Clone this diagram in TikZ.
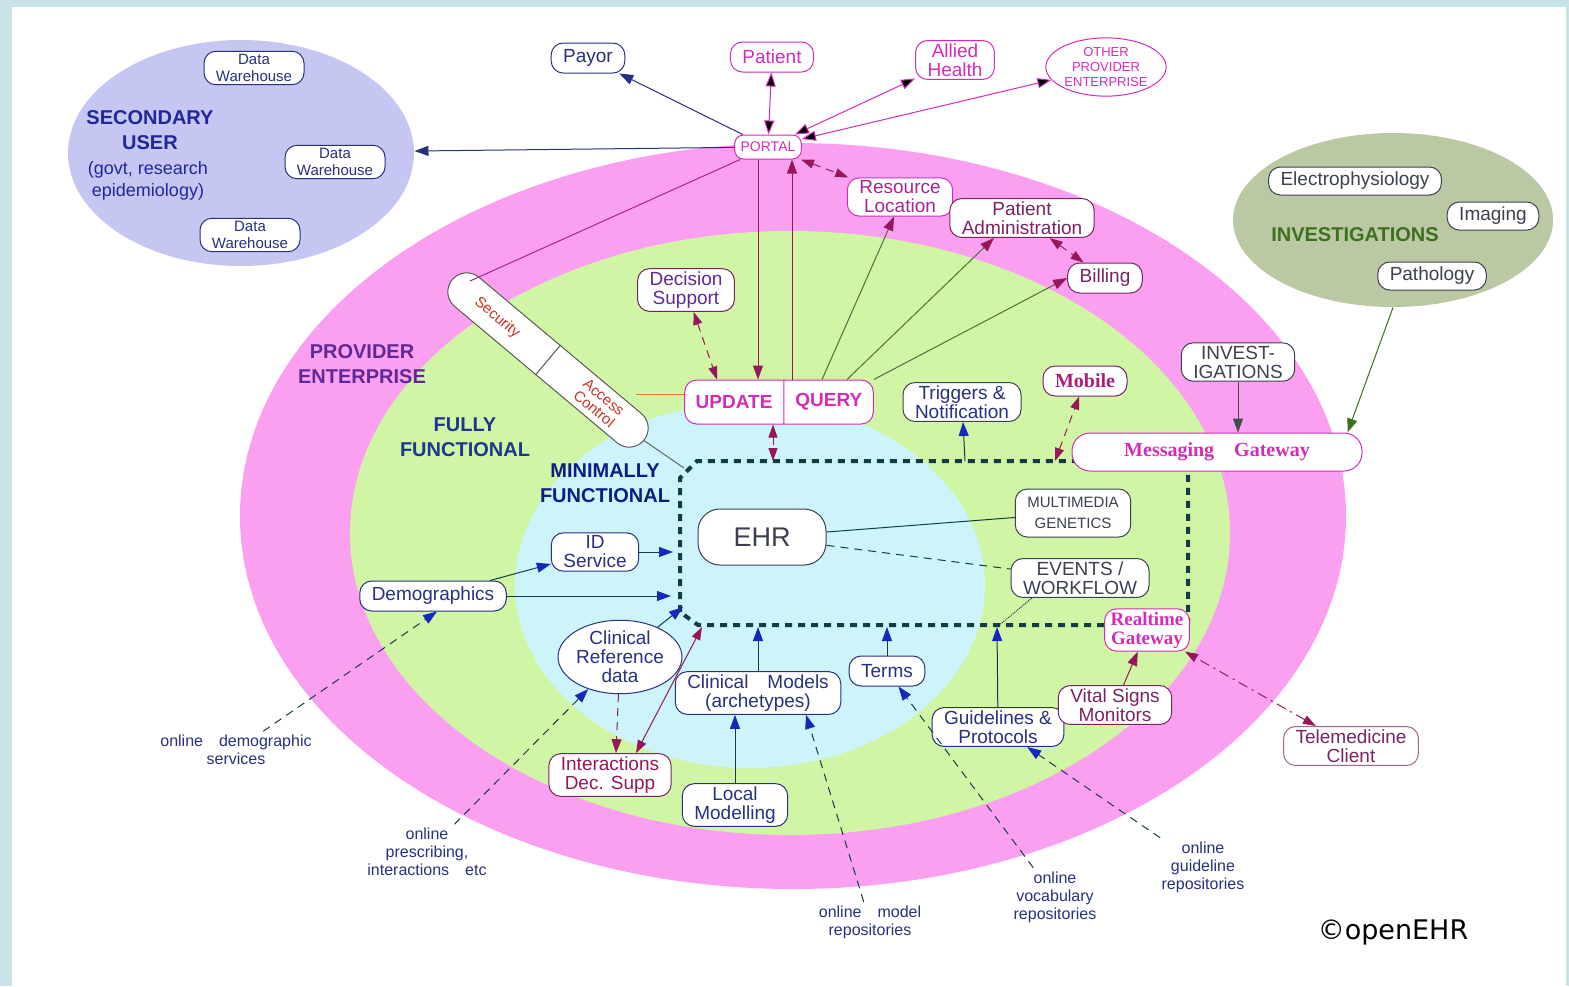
\documentclass[tikz,border=0pt]{standalone}
\usepackage{fontspec}
\setmainfont{Liberation Sans}
\newfontfamily\gwfont{Liberation Serif}
\newfontfamily\copyfont{DejaVu Sans}
\usetikzlibrary{arrows.meta, shapes}

\definecolor{framebg}{RGB}{200,226,232}
\definecolor{secfill}{RGB}{198,198,242}
\definecolor{invfill}{RGB}{186,200,164}
\definecolor{provfill}{RGB}{251,160,240}
\definecolor{fullfill}{RGB}{208,245,164}
\definecolor{minfill}{RGB}{204,244,250}
\definecolor{navy}{RGB}{40,48,128}
\definecolor{magtxt}{RGB}{212,44,184}
\definecolor{plum}{RGB}{120,36,100}
\definecolor{darkbox}{RGB}{60,64,80}
\definecolor{boxline}{RGB}{20,60,70}
\definecolor{arrblue}{RGB}{20,40,190}
\definecolor{arrplum}{RGB}{150,24,90}
\definecolor{olivel}{RGB}{80,110,60}
\definecolor{secred}{RGB}{200,50,40}
\definecolor{invgreen}{RGB}{62,112,32}
\definecolor{provtxt}{RGB}{96,40,150}
\definecolor{ffblue}{RGB}{28,56,140}
\definecolor{accorange}{RGB}{235,120,40}

\begin{document}
\begin{tikzpicture}[x=1pt, y=-1pt, line width=1pt, every edge/.style={draw},
	ehrbox/.style={draw=darkbox, fill=white, rounded corners=12pt, align=center, inner xsep=12pt, inner ysep=3pt, minimum height=30pt, line width=1pt, text=darkbox, font=\fontsize{19}{19}\selectfont},
	navybox/.style={ehrbox, draw=navy, text=navy},
	magbox/.style={ehrbox, draw=magtxt, text=magtxt},
	plumbox/.style={ehrbox, draw=plum, text=plum},
	dwbox/.style={navybox, minimum width=100pt, inner xsep=4pt, font=\fontsize{15}{17}\selectfont},
	gwbox/.style={ehrbox, draw=magtxt, text=magtxt, font=\gwfont\fontsize{20}{20}\selectfont\bfseries},
	uqbox/.style={ehrbox, rectangle split, rectangle split horizontal, rectangle split parts=2, draw=magtxt, text=magtxt, inner xsep=11pt, minimum height=44pt, font=\fontsize{19}{19}\selectfont\bfseries},
	secbar/.style={draw=gray!70!black, fill=white, rounded corners=19pt, minimum width=250pt, minimum height=38pt},
	sectext/.style={text=secred, align=center, inner sep=1pt, font=\fontsize{15}{15}\selectfont},
	zonetitle/.style={align=center, font=\fontsize{20}{25}\selectfont\bfseries},
	onlinetxt/.style={align=center, text=navy, font=\fontsize{16}{18}\selectfont},
	dashline/.style={dash pattern=on 8pt off 6pt},
	dashdotline/.style={dash pattern=on 10pt off 5pt on 2pt off 5pt},
	navyto/.style={>={Triangle[length=14pt,width=10pt]}, ->, draw=navy},
	blueto/.style={>={Triangle[length=14pt,width=10pt,color=arrblue]}, ->, draw=boxline},
	magboth/.style={>={Triangle[length=14pt,width=10pt]}, <->, draw=magtxt},
	plumto/.style={>={Triangle[length=14pt,width=10pt]}, ->, draw=arrplum},
	plumboth/.style={>={Triangle[length=13pt,width=9pt]}, <->, draw=arrplum},
	oliveto/.style={>={Triangle[length=14pt,width=10pt,color=arrplum]}, ->, draw=olivel},
	greento/.style={>={Triangle[length=14pt,width=10pt]}, ->, draw=invgreen},
	darkto/.style={>={Triangle[length=14pt,width=10pt]}, ->, draw=darkbox!70!olivel}]

	\useasboundingbox (0,0) rectangle (1569,986);
	\fill[framebg] (0,0) rectangle (1569,986);
	\fill[white] (12,7) rectangle (1566,986);

	% rings
	\fill[provfill] (793,516) ellipse [x radius=553pt, y radius=373pt];
	\fill[fullfill] (790,533) ellipse [x radius=440pt, y radius=302pt];
	\fill[minfill] (750,585) ellipse [x radius=235pt, y radius=183pt];

	\node[ellipse, fill=secfill, minimum width=346pt, minimum height=226pt] (secuser) at (241,153) {};
	\node[ellipse, fill=invfill, minimum width=320pt, minimum height=174pt] (invarea) at (1393,220) {};

	\draw[boxline, line width=4pt, dash pattern=on 7pt off 6pt] (680,612) -- (680,478) -- (697,461) -- (1188,461) -- (1188,625) -- (698,625) -- cycle;

	\node[dwbox] (dw1) at (254,68) {Data\\Warehouse};
	\node[dwbox] (dw2) at (335,162) {Data\\Warehouse};
	\node[dwbox] (dw3) at (250,235) {Data\\Warehouse};
	\node[zonetitle, text=navy!80!blue] (sectitle) at (150,130) {SECONDARY\\USER};
	\node[align=center, text=navy!80!blue, font=\fontsize{18}{22}\selectfont] (secsub) at (148,181) {(govt, research\\epidemiology)};

	\node[navybox] (payor) at (588,58) {Payor};
	\node[magbox] (patient) at (772,57) {Patient};
	\node[magbox] (allied) at (955,60) {Allied\\Health};
	\node[magbox, ellipse, inner sep=1pt, font=\fontsize{13}{15}\selectfont] (otherpe) at (1106,67) {OTHER\\PROVIDER\\ENTERPRISE};
	\node[magbox, minimum height=24pt, inner xsep=6pt, rounded corners=9pt, font=\fontsize{14}{14}\selectfont] (portal) at (768,147) {PORTAL};

	\node[magbox, text=magtxt!80!black] (resloc) at (900,197) {Resource\\Location};
	\node[plumbox] (patadm) at (1022,218) {Patient\\Administration};
	\node[plumbox] (billing) at (1105,278) {Billing};
	\node[plumbox, text=provtxt] (decsup) at (686,290) {Decision\\Support};
	\node[uqbox] (uq) at (779,402) {UPDATE\nodepart{two}QUERY};
	\node[ehrbox, text=navy] (trig) at (962,402) {Triggers \&\\Notification};
	\node[gwbox, text=arrplum!70!magtxt, draw=plum] (mobile) at (1085,381) {Mobile};

	\node[ehrbox] (invnode) at (1238,362) {INVEST-\\IGATIONS};
	\node[gwbox, minimum width=290pt, minimum height=38pt, rounded corners=18pt] (msg) at (1217,452) {Messaging\quad Gateway};
	\node[ehrbox, minimum height=28pt] (electro) at (1355,181) {Electrophysiology};
	\node[ehrbox, minimum height=28pt] (imaging) at (1493,216) {Imaging};
	\node[ehrbox, minimum height=28pt] (patho) at (1432,276) {Pathology};
	\node[zonetitle, text=invgreen] (invtitle) at (1355,235) {INVESTIGATIONS};

	\node[zonetitle, text=provtxt] (provtitle) at (362,364) {PROVIDER\\ENTERPRISE};
	\node[zonetitle, text=ffblue] (fulltitle) at (465,437) {FULLY\\FUNCTIONAL};
	\node[zonetitle, text=arrblue!70!black] (mintitle) at (605,483) {MINIMALLY\\FUNCTIONAL};

	\node[secbar, rotate=-40] (sec) at (548,360) {};
	\draw[gray!70!black] (sec.north) -- (sec.south);
	\node[sectext, rotate=-40] (sectxt) at (497,318) {Security};
	\node[sectext, rotate=-40] (acctxt) at (599,403) {Access\\Control};
	\coordinate (sectop) at (470,281);
	\coordinate (accside) at (636,394);
	\coordinate (boxcorner) at (684,468);

	\node[ehrbox, minimum width=128pt, minimum height=56pt, rounded corners=22pt, font=\fontsize{27}{27}\selectfont] (ehr) at (762,537) {EHR};
	\node[ehrbox, minimum height=48pt, font=\fontsize{15}{21}\selectfont] (multi) at (1073,513) {MULTIMEDIA\\GENETICS};
	\node[ehrbox] (events) at (1080,578) {EVENTS /\\WORKFLOW};
	\node[gwbox, font=\gwfont\fontsize{19}{19}\selectfont\bfseries, inner xsep=6pt] (realtime) at (1147,630) {Realtime\\Gateway};

	\node[navybox] (idsvc) at (595,552) {ID\\Service};
	\node[navybox] (demog) at (433,596) {Demographics};
	\node[navybox, ellipse, inner sep=0pt] (clinref) at (620,657) {Clinical\\Reference\\data};
	\node[navybox] (clinmod) at (758,693) {Clinical\quad Models\\(archetypes)};
	\node[navybox] (terms) at (887,671) {Terms};
	\node[navybox] (guide) at (998,727) {Guidelines \&\\Protocols};
	\node[plumbox] (vital) at (1115,705) {Vital Signs\\Monitors};
	\node[plumbox, draw=plum!70] (tele) at (1351,746) {Telemedicine\\Client};
	\node[plumbox, text=arrplum] (interact) at (610,775) {Interactions\\Dec. Supp};
	\node[navybox] (localmod) at (735,805) {Local\\Modelling};

	\node[onlinetxt] (demotxt) at (236,750) {online\quad demographic\\services};
	\node[onlinetxt] (prestxt) at (427,852) {online\\prescribing,\\interactions\quad etc};
	\node[onlinetxt] (modeltxt) at (870,922) {online\quad model\\repositories};
	\node[onlinetxt] (vocabtxt) at (1055,897) {online\\vocabulary\\repositories};
	\node[onlinetxt] (guidetxt) at (1203,867) {online\\guideline\\repositories};
	\node[font=\copyfont\fontsize{27}{27}\selectfont] (copyr) at (1393,932) {©openEHR};

	\coordinate (boxuq) at (773,461);
	\coordinate (boxtrig) at (965,461);
	\coordinate (boxmob) at (1055,461);
	\coordinate (boxid) at (673,552);
	\coordinate (boxdem) at (671,596);
	\coordinate (boxcr) at (683,607);
	\coordinate (boxint) at (702,627);
	\coordinate (boxcm) at (758,627);
	\coordinate (boxterm) at (887,627);
	\coordinate (boxguide) at (997,627);

	\path (portal) edge[navyto] (payor)
		(portal) edge[magboth] (patient)
		(portal) edge[magboth] (allied)
		(portal) edge[magboth] (otherpe)
		(portal) edge[navyto] (secuser)
		(portal) edge[draw=magtxt!80!black] (sectop)
		([xshift=-10pt]portal.south) edge[plumto] ([xshift=-21pt]uq.north)
		([xshift=13pt]uq.north) edge[plumto] ([xshift=24pt]portal.south)
		(portal) edge[plumboth, dashline] (resloc)
		([xshift=43pt]uq.north) edge[oliveto] ([xshift=-6pt]resloc.south)
		([xshift=68pt]uq.north) edge[oliveto] ([xshift=-28pt]patadm.south)
		(uq.north east) edge[oliveto] (billing.west)
		(patadm) edge[plumboth, dashline] (billing)
		(decsup) edge[plumboth, dashline] ([xshift=-62pt]uq.north)
		([xshift=-6pt]uq.south) edge[plumboth, dashline] (boxuq);

	\path (invnode) edge[darkto] (invnode |- msg.north)
		(invarea.south) edge[greento] ([xshift=-15pt]msg.north east)
		(sec.east) edge[draw=gray!80!black] (boxcorner)
		(accside) edge[draw=accorange] (accside -| uq.west);

	\path (ehr) edge[draw=boxline] (multi)
		(ehr) edge[draw=boxline, dashline] (events)
		([xshift=-48pt]events.south) edge[draw=boxline, densely dotted] (boxguide)
		(boxtrig) edge[blueto] (trig)
		(boxmob) edge[plumboth, dashline] (mobile)
		(idsvc) edge[blueto] (boxid)
		(demog) edge[blueto] (idsvc)
		(demog) edge[blueto] (boxdem)
		(clinref) edge[blueto] (boxcr)
		([xshift=26pt]interact.north) edge[plumboth] (boxint)
		(clinref) edge[plumto, dashline] ([xshift=6pt]interact.north)
		(clinmod) edge[blueto] (boxcm)
		(terms) edge[blueto] (boxterm)
		(guide) edge[blueto] (boxguide)
		(localmod) edge[blueto] (localmod |- clinmod.south)
		(vital) edge[plumto] (realtime)
		(tele) edge[plumboth, dashdotline] (realtime);

	\path (demotxt) edge[blueto, dashline] ([xshift=4pt]demog.south)
		(prestxt) edge[blueto, dashline] (clinref)
		(modeltxt) edge[blueto, dashline] ([xshift=48pt]clinmod.south)
		(vocabtxt) edge[blueto, dashline] (terms)
		(guidetxt) edge[blueto, dashline] (guide);
\end{tikzpicture}
\end{document}
